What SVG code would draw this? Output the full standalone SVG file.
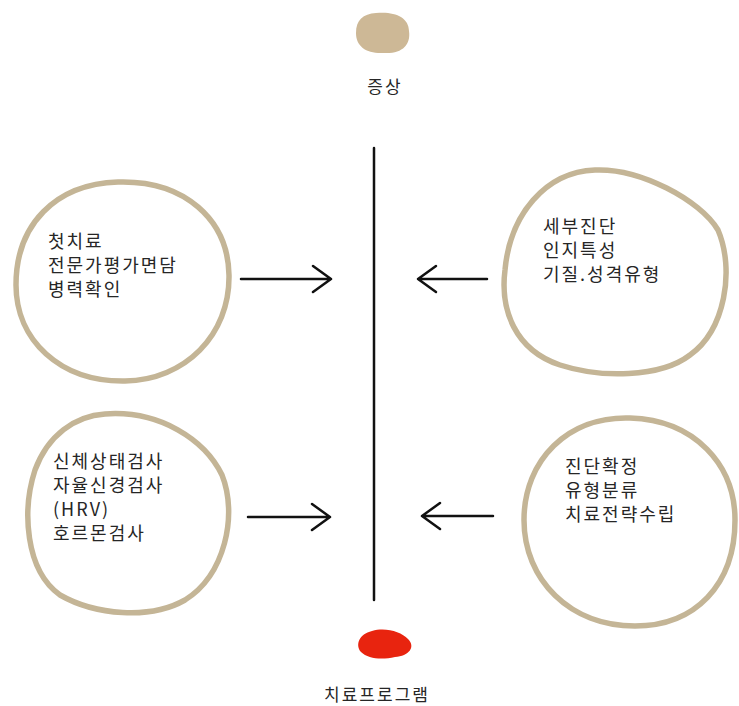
<svg xmlns="http://www.w3.org/2000/svg" width="739" height="706" viewBox="0 0 739 706">
<style>
.ring{fill:none;stroke:#c4b596;stroke-width:5.5;stroke-linejoin:round}
.t{font-family:"Noto Sans CJK KR","Noto Sans",sans-serif;font-size:18px;letter-spacing:2px;fill:#262626}
.ln{stroke:#111;stroke-width:2.5;fill:none;stroke-linecap:round;stroke-linejoin:round}
</style>
<rect width="739" height="706" fill="#fff"/>
<g id="symptom">
<path d="M376 13 C394 11 409 17 409 31 C411 45 402 54 384 53 C367 54 356 47 356 33 C356 20 363 14 376 13 Z" fill="#cdb896"/>
<text class="t" x="385" y="93" text-anchor="middle" style="font-size:17px">증상</text>
</g>
<g id="program">
<path d="M372 631 C386 627 401 632 408 639 C416 647 409 656 395 657 C382 660 368 659 361 652 C355 645 359 634 372 631 Z" fill="#e8240f"/>
<text class="t" x="377" y="701" text-anchor="middle" style="font-size:17px">치료프로그램</text>
</g>
<g id="first">
<path class="ring" d="M118 182 C185 180 228 220 229 275 C230 335 185 380 125 381 C60 382 16 340 16 285 C16 225 55 184 118 182 Z"/>
<text class="t" x="48" y="248">첫치료</text>
<text class="t" x="48" y="272">전문가평가면담</text>
<text class="t" x="48" y="296">병력확인</text>
</g>
<g id="detail">
<path class="ring" d="M595 170 C640 168 700 200 718 230 C735 270 725 330 690 355 C660 378 600 378 560 365 C515 350 500 310 505 270 C510 215 545 172 595 170 Z"/>
<text class="t" x="543" y="233">세부진단</text>
<text class="t" x="543" y="257">인지특성</text>
<text class="t" x="543" y="281">기질.성격유형</text>
</g>
<g id="body">
<path class="ring" d="M105 414 C160 410 205 440 222 475 C238 515 225 575 185 600 C150 620 95 615 60 595 C25 570 22 510 35 470 C48 435 75 416 105 414 Z"/>
<text class="t" x="53" y="468">신체상태검사</text>
<text class="t" x="53" y="492">자율신경검사</text>
<text class="t" x="53" y="516">(HRV)</text>
<text class="t" x="53" y="540">호르몬검사</text>
</g>
<g id="confirm">
<path class="ring" d="M630 418 C695 420 735 465 735 520 C735 585 695 626 635 626 C570 626 524 580 524 520 C524 460 568 416 630 418 Z"/>
<text class="t" x="565" y="473">진단확정</text>
<text class="t" x="565" y="497">유형분류</text>
<text class="t" x="565" y="521">치료전략수립</text>
</g>
<g id="connectors">
<line class="ln" x1="374" y1="148" x2="374" y2="600"/>
<path class="ln" d="M241 279 H331 M313 266 L331 279 L313 292"/>
<path class="ln" d="M487 279 H418 M436 266 L418 279 L436 292"/>
<path class="ln" d="M248 517 H330 M312 504 L330 517 L312 530"/>
<path class="ln" d="M493 516 H422 M440 503 L422 516 L440 529"/>
</g>
</svg>
